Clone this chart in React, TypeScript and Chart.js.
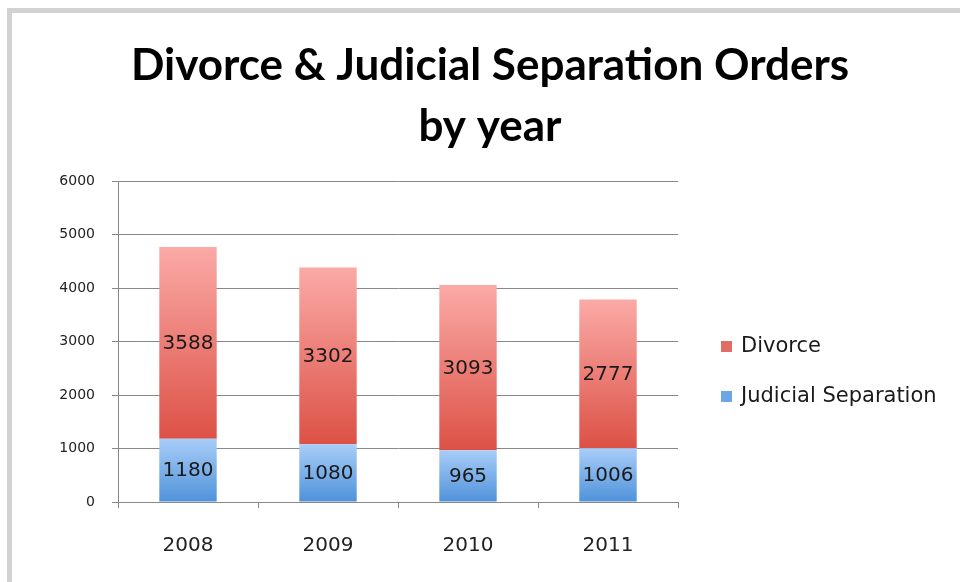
import React, { useEffect, useRef } from "react";
import { Chart, registerables } from "chart.js";

Chart.register(...registerables);

const years = ["2008", "2009", "2010", "2011"];
const judicialSeparation = [1180, 1080, 965, 1006];
const divorce = [3588, 3302, 3093, 2777];
const yTicks = [0, 1000, 2000, 3000, 4000, 5000, 6000];
const titleLines = ["Divorce & Judicial Separation Orders", "by year"];
const legendLabels = ["Divorce", "Judicial Separation"];

const FONT = "'DejaVu Sans', 'Open Sans', sans-serif";
const TITLE_FONT = "Lato, 'Open Sans', sans-serif";

const gradients: Record<string, [string, string, string]> = {
  divorce: ["#fbaaa7", "#dc5146", "#e06e67"],
  judicial: ["#a8cdf8", "#4f92da", "#6ca6e6"],
};

function segGradient(ctx: any, key: "divorce" | "judicial") {
  const chart = ctx.chart;
  const ys = chart.scales && chart.scales.y;
  const [topC, botC, solid] = gradients[key];
  if (!ys || ctx.type !== "data" || !chart.chartArea) return solid;
  const i = ctx.dataIndex;
  const base = key === "judicial" ? 0 : judicialSeparation[i];
  const top = key === "judicial" ? judicialSeparation[i] : judicialSeparation[i] + divorce[i];
  const y0 = ys.getPixelForValue(top);
  const y1 = ys.getPixelForValue(base);
  if (!isFinite(y0) || !isFinite(y1)) return solid;
  const g = chart.ctx.createLinearGradient(0, y0, 0, y1);
  g.addColorStop(0, topC);
  g.addColorStop(1, botC);
  return g;
}

const decorPlugin = {
  id: "decor",
  beforeDraw(chart: any) {
    const c = chart.ctx;
    c.save();
    c.fillStyle = "#ffffff";
    c.fillRect(0, 0, chart.width, chart.height);
    c.fillStyle = "#d2d2d2";
    c.fillRect(7, 8, chart.width - 7, 5);
    c.fillRect(7, 8, 5, chart.height - 8);
    c.restore();
  },
  afterDraw(chart: any) {
    const c = chart.ctx;
    c.save();
    // title
    c.fillStyle = "#000000";
    c.textAlign = "center";
    c.textBaseline = "middle";
    c.font = `bold 44px ${TITLE_FONT}`;
    c.fillText(titleLines[0], 490, 66);
    c.fillText(titleLines[1], 490, 127);
    // legend
    const colors = [gradients.divorce[2], gradients.judicial[2]];
    const ys = [347, 397];
    c.textAlign = "left";
    c.font = `21px ${FONT}`;
    for (let k = 0; k < legendLabels.length; k++) {
      c.fillStyle = colors[k];
      c.fillRect(721, ys[k] - 6, 11, 11);
      c.fillStyle = "#1a1a1a";
      c.fillText(legendLabels[k], 741, ys[k]);
    }
    c.restore();
  },
  afterDatasetsDraw(chart: any) {
    const c = chart.ctx;
    c.save();
    c.fillStyle = "#1a1a1a";
    c.textAlign = "center";
    c.textBaseline = "middle";
    c.font = `20px ${FONT}`;
    chart.data.datasets.forEach((ds: any, di: number) => {
      const meta = chart.getDatasetMeta(di);
      meta.data.forEach((el: any, i: number) => {
        const p = el.getProps(["x", "y", "base"], true);
        c.fillText(String(ds.data[i]), p.x, (p.y + p.base) / 2 + 1);
      });
    });
    c.restore();
  },
};

export default function App() {
  const ref = useRef<HTMLCanvasElement>(null);
  useEffect(() => {
    if (!ref.current) return;
    const chart = new Chart(ref.current, {
      type: "bar",
      data: {
        labels: years,
        datasets: [
          {
            label: legendLabels[1],
            data: judicialSeparation,
            backgroundColor: (ctx: any) => segGradient(ctx, "judicial"),
            borderWidth: 0,
            categoryPercentage: 1,
            barPercentage: 0.41,
          },
          {
            label: legendLabels[0],
            data: divorce,
            backgroundColor: (ctx: any) => segGradient(ctx, "divorce"),
            borderWidth: 0,
            categoryPercentage: 1,
            barPercentage: 0.41,
          },
        ],
      },
      options: {
        responsive: false,
        animation: false,
        devicePixelRatio: 1,
        layout: { padding: { top: 181, right: 282, bottom: 0, left: 0 } },
        plugins: {
          legend: { display: false },
          title: { display: false },
          tooltip: { enabled: false },
        },
        scales: {
          x: {
            stacked: true,
            grid: {
              display: true,
              drawOnChartArea: false,
              drawTicks: true,
              tickLength: 6,
              color: "#888888",
              offset: true,
            },
            border: { display: true, color: "#888888", width: 1 },
            ticks: {
              color: "#222222",
              font: { family: FONT, size: 20 },
              padding: 26,
            },
            afterFit(scale: any) {
              scale.height = 80;
            },
          },
          y: {
            stacked: true,
            min: 0,
            max: 6000,
            afterBuildTicks(scale: any) {
              scale.ticks = yTicks.map((v) => ({ value: v }));
            },
            grid: {
              color: "#888888",
              tickLength: 6,
              drawTicks: true,
            },
            border: { display: true, color: "#888888", width: 1 },
            ticks: {
              color: "#222222",
              font: { family: FONT, size: 14 },
              padding: 17,
              callback: (v: any) => String(v),
            },
            afterFit(scale: any) {
              scale.width = 118;
            },
          },
        },
      },
      plugins: [decorPlugin],
    });
    return () => chart.destroy();
  }, []);
  return (
    <div style={{ position: "absolute", left: 0, top: 0, width: 960, height: 582 }}>
      <canvas ref={ref} width={960} height={582} style={{ display: "block" }} />
    </div>
  );
}
